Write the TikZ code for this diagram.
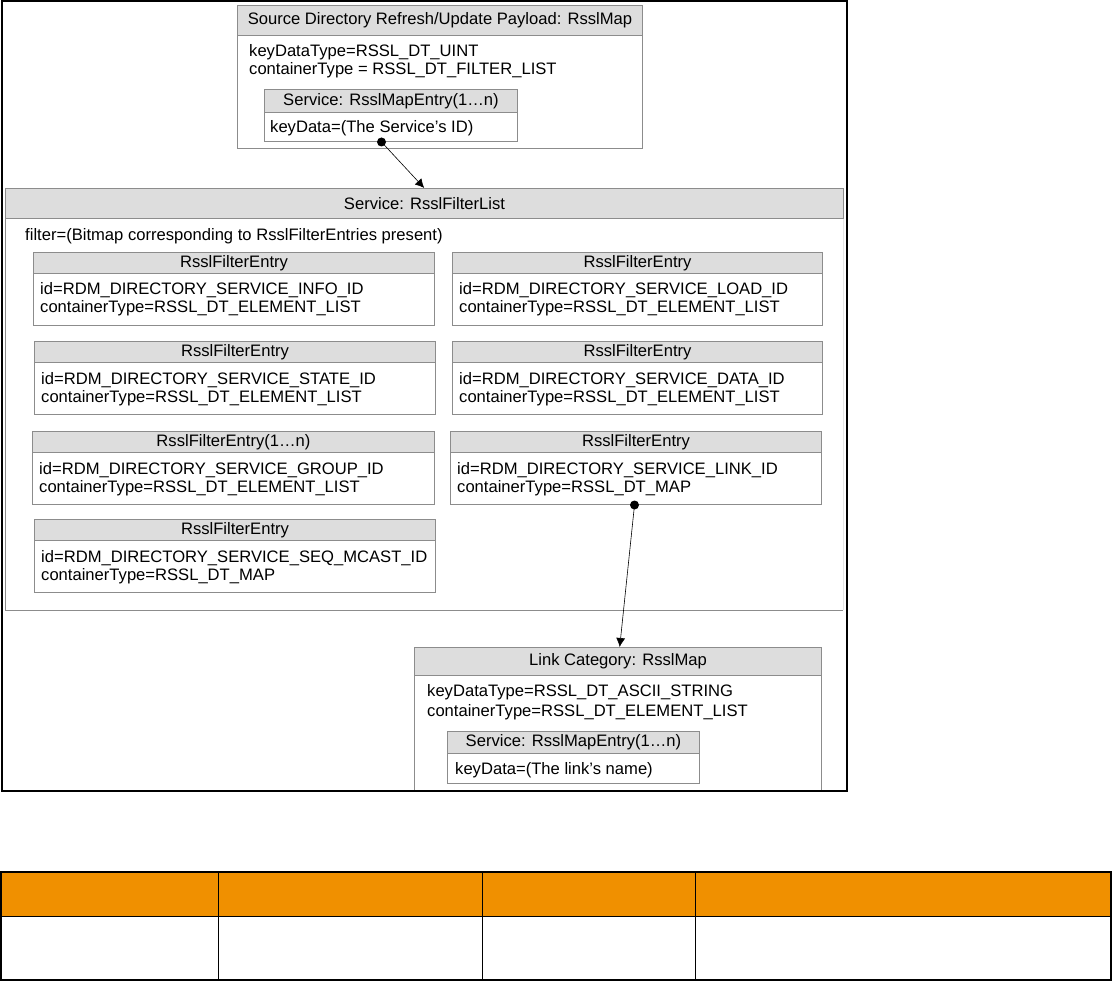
\documentclass[tikz,border=0pt]{standalone}
\usepackage{fontspec}
\setmainfont{Liberation Sans}
\usetikzlibrary{arrows.meta,calc,positioning}
\definecolor{hdrgray}{HTML}{DDDDDD}
\definecolor{edgegray}{HTML}{8C8C8C}
\definecolor{tblorange}{HTML}{F09000}
% one filter entry: name, x, y, width, title, first line, second line
\newcommand{\fentry}[7]{%
  \node[bodybox,minimum width=#4,minimum height=73] (#1) at (#2,#3) {};
  \node[headbox,minimum width=#4,minimum height=21] (#1-h) at (#1.north west) {#5};
  \node[bodytext] (#1-a) at ([shift={(7,43)}]#1.north west) {#6};
  \node[bodytext] (#1-b) at ([shift={(7,61)}]#1.north west) {#7};
}

\begin{document}
\begin{tikzpicture}[x=1pt,y=-1pt,>=Latex,font=\fontsize{16.6}{18}\selectfont,
  bodybox/.style={draw=edgegray,line width=1pt,anchor=north west,inner sep=0},
  headbox/.style={draw=edgegray,fill=hdrgray,line width=1pt,anchor=north west,inner sep=0},
  bodytext/.style={anchor=base west,inner sep=0},
  link/.style={-{Latex[length=9pt,width=9pt]},line width=0.6pt}]
  \useasboundingbox (0,0) rectangle (1113,981);
  % refresh payload map
  \node[bodybox,minimum width=405,minimum height=143] (srcmap) at (237,5) {};
  \node[headbox,minimum width=405,minimum height=30] (srcmap-h) at (srcmap.north west) {Source Directory Refresh/Update Payload: RsslMap};
  \node[bodytext] (srcmap-a) at (249,57) {keyDataType=RSSL\_DT\_UINT};
  \node[bodytext] (srcmap-b) at (249,75) {containerType = RSSL\_DT\_FILTER\_LIST};
  \node[bodybox,minimum width=253,minimum height=52] (svcentry) at (264,89) {};
  \node[headbox,minimum width=253,minimum height=23] (svcentry-h) at (svcentry.north west) {Service: RsslMapEntry(1…n)};
  \node[bodytext] (svcentry-a) at (270,133) {keyData=(The Service’s ID)};
  % filter list
  \node[anchor=north west,inner sep=0,minimum width=838,minimum height=422] (svcfl) at (5,188) {};
  \draw[edgegray,line width=1pt] (svcfl.north west) -- (svcfl.south west) -- (svcfl.south east);
  \draw[gray!20,line width=1pt] (svcfl.south east) -- (svcfl.north east);
  \node[headbox,minimum width=838,minimum height=30] (svcfl-h) at (svcfl.north west) {Service: RsslFilterList};
  \node[bodytext] (filter) at (25,241) {filter=(Bitmap corresponding to RsslFilterEntries present)};
  \fentry{info}{33}{252}{401}{RsslFilterEntry}{id=RDM\_DIRECTORY\_SERVICE\_INFO\_ID}{containerType=RSSL\_DT\_ELEMENT\_LIST}
  \fentry{state}{34}{341}{401}{RsslFilterEntry}{id=RDM\_DIRECTORY\_SERVICE\_STATE\_ID}{containerType=RSSL\_DT\_ELEMENT\_LIST}
  \fentry{group}{32}{431}{402}{RsslFilterEntry(1…n)}{id=RDM\_DIRECTORY\_SERVICE\_GROUP\_ID}{containerType=RSSL\_DT\_ELEMENT\_LIST}
  \fentry{seqmcast}{34}{519}{401}{RsslFilterEntry}{id=RDM\_DIRECTORY\_SERVICE\_SEQ\_MCAST\_ID}{containerType=RSSL\_DT\_MAP}
  \fentry{load}{452}{252}{370}{RsslFilterEntry}{id=RDM\_DIRECTORY\_SERVICE\_LOAD\_ID}{containerType=RSSL\_DT\_ELEMENT\_LIST}
  \fentry{data}{452}{341}{370}{RsslFilterEntry}{id=RDM\_DIRECTORY\_SERVICE\_DATA\_ID}{containerType=RSSL\_DT\_ELEMENT\_LIST}
  \fentry{link}{450}{431}{371}{RsslFilterEntry}{id=RDM\_DIRECTORY\_SERVICE\_LINK\_ID}{containerType=RSSL\_DT\_MAP}
  % link category map
  \node[bodybox,minimum width=407,minimum height=144,line width=1.4pt] (linkmap) at (414,647) {};
  \node[headbox,minimum width=407,minimum height=28] (linkmap-h) at (linkmap.north west) {Link Category: RsslMap};
  \node[bodytext] (linkmap-a) at (427,696) {keyDataType=RSSL\_DT\_ASCII\_STRING};
  \node[bodytext] (linkmap-b) at (427,716) {containerType=RSSL\_DT\_ELEMENT\_LIST};
  \node[bodybox,minimum width=252,minimum height=52] (linkentry) at (447,731) {};
  \node[headbox,minimum width=252,minimum height=22] (linkentry-h) at (linkentry.north west) {Service: RsslMapEntry(1…n)};
  \node[bodytext] (linkentry-a) at (455,774) {keyData=(The link’s name)};
  % connectors
  \coordinate (svcdot) at ([xshift=-9.5]svcentry.south);
  \coordinate (linkdot) at ([xshift=-1.5]link.south);
  \draw[link] (svcdot) -- (svcfl.north);
  \draw[link] (linkdot) -- ([xshift=1.5]linkmap.north);
  \fill (svcdot) circle (4.5);
  \fill (linkdot) circle (4.5);
  % frame
  \draw[line width=2.5] (2,1.25) rectangle (847,791);
  % table
  \fill[tblorange] (1,872) rectangle (1111,916);
  \draw[line width=0.8] (1,916) -- (1111,916);
  \foreach \cx in {218,482,695} {\draw[line width=0.8] (\cx,872) -- (\cx,980);}
  \draw[line width=1.6] (1,872) rectangle (1111,980);
\end{tikzpicture}
\end{document}
